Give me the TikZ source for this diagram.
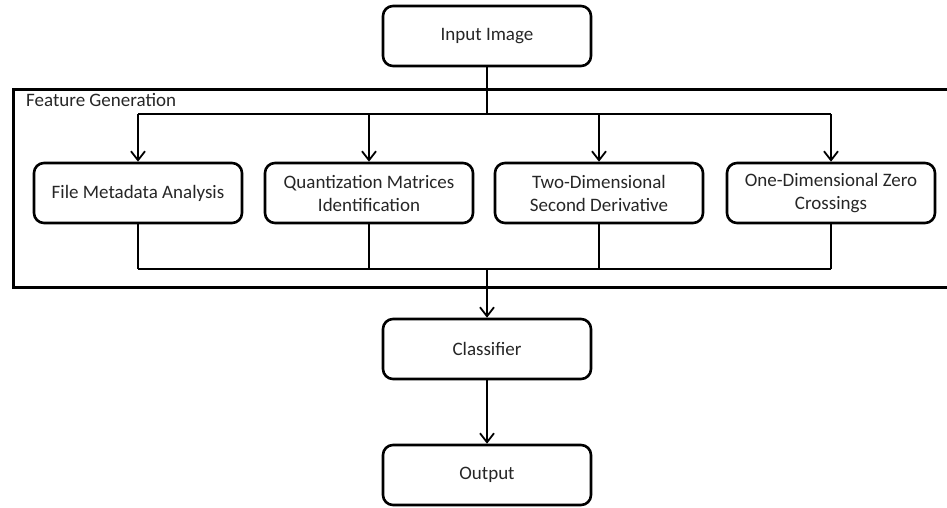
\documentclass[tikz,border=0pt]{standalone}
\usepackage{fontspec}
\setmainfont{Carlito}
\usetikzlibrary{arrows.meta}
\definecolor{txt}{HTML}{262626}
\tikzset{
  stepbox/.style={draw=black, line width=2.6pt, rounded corners=10pt,
    minimum width=208pt, minimum height=60pt, align=center, text=txt,
    font=\fontsize{19}{23}\selectfont, inner sep=0pt},
  conn/.style={draw=black, line width=1.8pt},
  arr/.style={conn, -{Straight Barb[length=9pt,width=14pt,line width=1.8pt]}},
  framebox/.style={draw=black, line width=2.8pt, inner sep=0pt, anchor=north west}
}
\begin{document}
\begin{tikzpicture}[x=1pt,y=-1pt]
\useasboundingbox (0,0) rectangle (947,507);
% outer frame of the feature stage
\node[framebox, minimum width=950pt, minimum height=198pt] (frame) at (12,88) {};
\node[anchor=west, text=txt, font=\fontsize{19}{23}\selectfont, inner sep=0pt] (fglabel) at (26,100) {Feature Generation};
% main boxes
\node[stepbox] (inp) at (487,36) {Input Image};
\node[stepbox] (f1) at (138,193) {File Metadata Analysis};
\node[stepbox] (f2) at (369,193) {Quantization Matrices\\Identification};
\node[stepbox] (f3) at (599,193) {Two-Dimensional\\Second Derivative};
\node[stepbox] (f4) at (831,193) {One-Dimensional Zero\\Crossings};
\node[stepbox] (cls) at (487,349) {Classifier};
\node[stepbox] (out) at (487,475) {Output};
% branching and joining points
\coordinate (split) at (487,114);
\coordinate (merge) at (487,269);
% distribution to the feature extractors
\draw[conn] (inp.south) -- (split);
\draw[conn] (split -| f1.north) -- (split -| f4.north);
\foreach \f in {f1,f2,f3,f4} {
  \draw[arr] (split -| \f.north) -- (\f.north);
  \draw[conn] (\f.south) -- (merge -| \f.south);
}
% collection into the classifier
\draw[conn] (merge -| f1.south) -- (merge -| f4.south);
\draw[arr] (merge) -- (cls.north);
\draw[arr] (cls.south) -- (out.north);
\end{tikzpicture}
\end{document}
